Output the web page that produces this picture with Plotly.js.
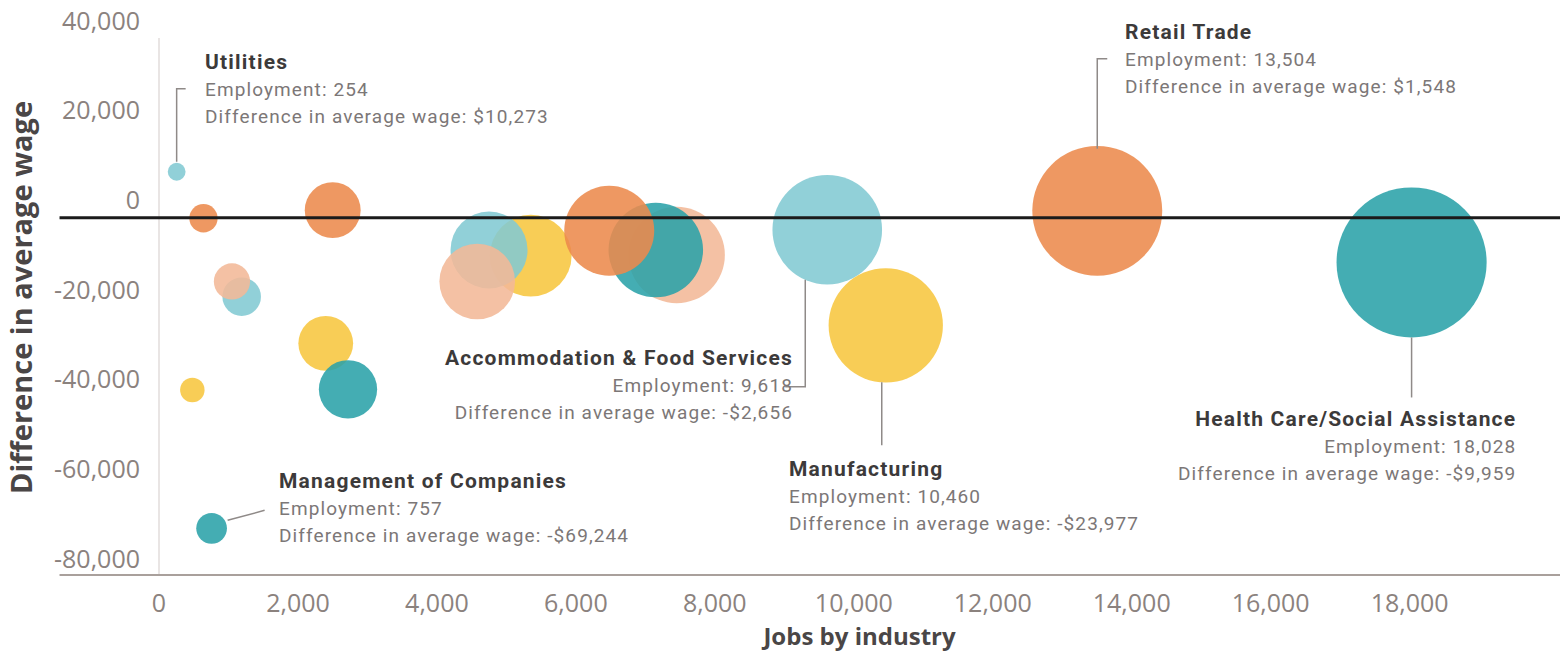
<!DOCTYPE html>
<html>
<head>
<meta charset="utf-8">
<script src="https://cdn.plot.ly/plotly-3.0.1.min.js"></script>
<style>
  html, body { margin: 0; padding: 0; background: #ffffff; }
  #chart { width: 1564px; height: 671px; }
</style>
</head>
<body>
<div id="chart"></div>
<script>
// ---- Data ----
const industries = ['Utilities', '', '', '', '', '', '', '', 'Management of Companies',
  '', '', '', '', '', '', 'Accommodation & Food Services', 'Manufacturing', 'Retail Trade',
  'Health Care/Social Assistance'];
const employment = [254, 640, 1190, 1050, 480, 2500, 2400, 2720, 757,
  5350, 4750, 4580, 7450, 7150, 6480, 9618, 10460, 13504, 18028];
const wageDiff = [10273, -100, -17600, -14200, -38400, 1700, -28000, -38240, -69244,
  -8450, -7180, -14200, -8300, -7180, -2880, -2656, -23977, 1548, -9959];
const colorKeys = ['lightTeal', 'orange', 'lightTeal', 'peach', 'yellow', 'orange', 'yellow', 'darkTeal', 'darkTeal',
  'yellow', 'lightTeal', 'peach', 'peach', 'darkTeal', 'orange', 'lightTeal', 'yellow', 'orange', 'darkTeal'];
const palette = { lightTeal: '#82c9d3', orange: '#ec8a4c', peach: '#f3b897', yellow: '#f7c63f', darkTeal: '#2aa2a8' };

const yTickLabels = ['40,000', '20,000', '0', '-20,000', '-40,000', '-60,000', '-80,000'];
const yTickNumbers = [40000, 20000, 0, -20000, -40000, -60000, -80000];
const xTickNumbers = [0, 2000, 4000, 6000, 8000, 10000, 12000, 14000, 16000, 18000];

// label placement (pixel offsets from each labelled bubble) and connector paths
const labelSpec = {
  'Utilities': { xshift: 26, yshift: 83, xanchor: 'left', path: 'M0,10 L0,83 L9,83' },
  'Retail Trade': { xshift: 26, yshift: 152, xanchor: 'left', path: 'M0,62 L0,152 L10,152' },
  'Accommodation & Food Services': { xshift: -32, yshift: -155, xanchor: 'right', path: 'M-22,-50 L-22,-157 L-42,-157' },
  'Manufacturing': { xshift: -99, yshift: -171, xanchor: 'left', path: 'M-4,-57 L-4,-120' },
  'Health Care/Social Assistance': { xshift: 106, yshift: -184, xanchor: 'right', path: 'M0,-75 L0,-135' },
  'Management of Companies': { xshift: 65, yshift: 20, xanchor: 'left', path: 'M16,8 L53,18' }
};

function fmt(n) { return Math.abs(n).toLocaleString('en-US'); }
function money(n) { return (n < 0 ? '-$' : '$') + fmt(n); }

const trace = {
  type: 'scatter',
  mode: 'markers',
  x: employment,
  y: wageDiff,
  text: industries,
  hoverinfo: 'skip',
  marker: {
    size: employment,
    sizemode: 'area',
    sizeref: 1.6,
    color: colorKeys.map(k => palette[k]),
    opacity: 0.88,
    line: { width: 0 }
  },
  showlegend: false
};

const yPlotTop = 40090;
const yPlotBottom = -79650;

const annotations = [];
const shapes = [];

// left axis line, zero line and bottom axis line (extend into the left margin as in the reference)
shapes.push({ type: 'line', xref: 'paper', yref: 'y', x0: 0, x1: 0, y0: yPlotBottom, y1: yPlotTop,
  line: { color: '#e2dddb', width: 1.5 }, layer: 'below' });
shapes.push({ type: 'line', xref: 'paper', yref: 'y', x0: -0.071, x1: 1, y0: 0, y1: 0,
  line: { color: '#1b1b1b', width: 3 }, layer: 'above' });
shapes.push({ type: 'line', xref: 'paper', yref: 'paper', x0: -0.071, x1: 1, y0: 0, y1: 0,
  line: { color: '#a9a09c', width: 2 }, layer: 'above' });

const bodyStyle = 'font-size:19px;letter-spacing:1.1px';
industries.forEach((name, i) => {
  if (!name || !labelSpec[name]) return;
  const s = labelSpec[name];
  annotations.push({
    xref: 'x', yref: 'y', x: employment[i], y: wageDiff[i],
    xanchor: s.xanchor, yanchor: 'middle', align: s.xanchor,
    xshift: s.xshift, yshift: s.yshift, showarrow: false,
    font: { family: 'Roboto, Open Sans, sans-serif', size: 20.8, color: '#7c7777' },
    text: '<span style="font-weight:bold;font-size:21px;letter-spacing:1.2px;fill:#3c3a3a">' + name + '</span><br>' +
          '<span style="' + bodyStyle + '">Employment: ' + fmt(employment[i]) + '</span><br>' +
          '<span style="' + bodyStyle + '">Difference in average wage: ' + money(wageDiff[i]) + '</span>'
  });
  shapes.push({
    type: 'path', xref: 'x', yref: 'y', xsizemode: 'pixel', ysizemode: 'pixel',
    xanchor: employment[i], yanchor: wageDiff[i], path: s.path,
    line: { color: '#8f8a88', width: 1.5 }, layer: 'above'
  });
});

const tickFont = { family: 'Liberation Sans Narrow, Open Sans, sans-serif', size: 25, color: '#8b827e' };

const layout = {
  width: 1564, height: 671,
  margin: { l: 159, r: 4, t: 20, b: 96 },
  paper_bgcolor: '#ffffff', plot_bgcolor: '#ffffff',
  xaxis: {
    range: [0, 20164],
    tickvals: xTickNumbers,
    ticktext: xTickNumbers.map(v => v.toLocaleString('en-US')),
    showgrid: false, zeroline: false, showline: false,
    ticks: '', ticklabelstandoff: 11,
    tickfont: tickFont,
    title: { text: '<b>Jobs by industry</b>', font: { family: 'Open Sans, sans-serif', size: 24, color: '#4a4646' }, standoff: 8 }
  },
  yaxis: {
    range: [yPlotBottom, 44104],
    // the reference prints its labels about 3,900 above the matching value
    tickvals: yTickNumbers.map(v => v + 3900),
    ticktext: yTickLabels,
    showgrid: false, zeroline: false, showline: false,
    ticks: '', ticklabelstandoff: 18,
    tickfont: tickFont,
    title: { text: '<b>Difference in average wage</b>', font: { family: 'Open Sans, sans-serif', size: 29, color: '#4a4646' }, standoff: 12 }
  },
  annotations: annotations,
  shapes: shapes,
  hovermode: false
};

Plotly.newPlot('chart', [trace], layout, { displayModeBar: false, staticPlot: true });
</script>
</body>
</html>
